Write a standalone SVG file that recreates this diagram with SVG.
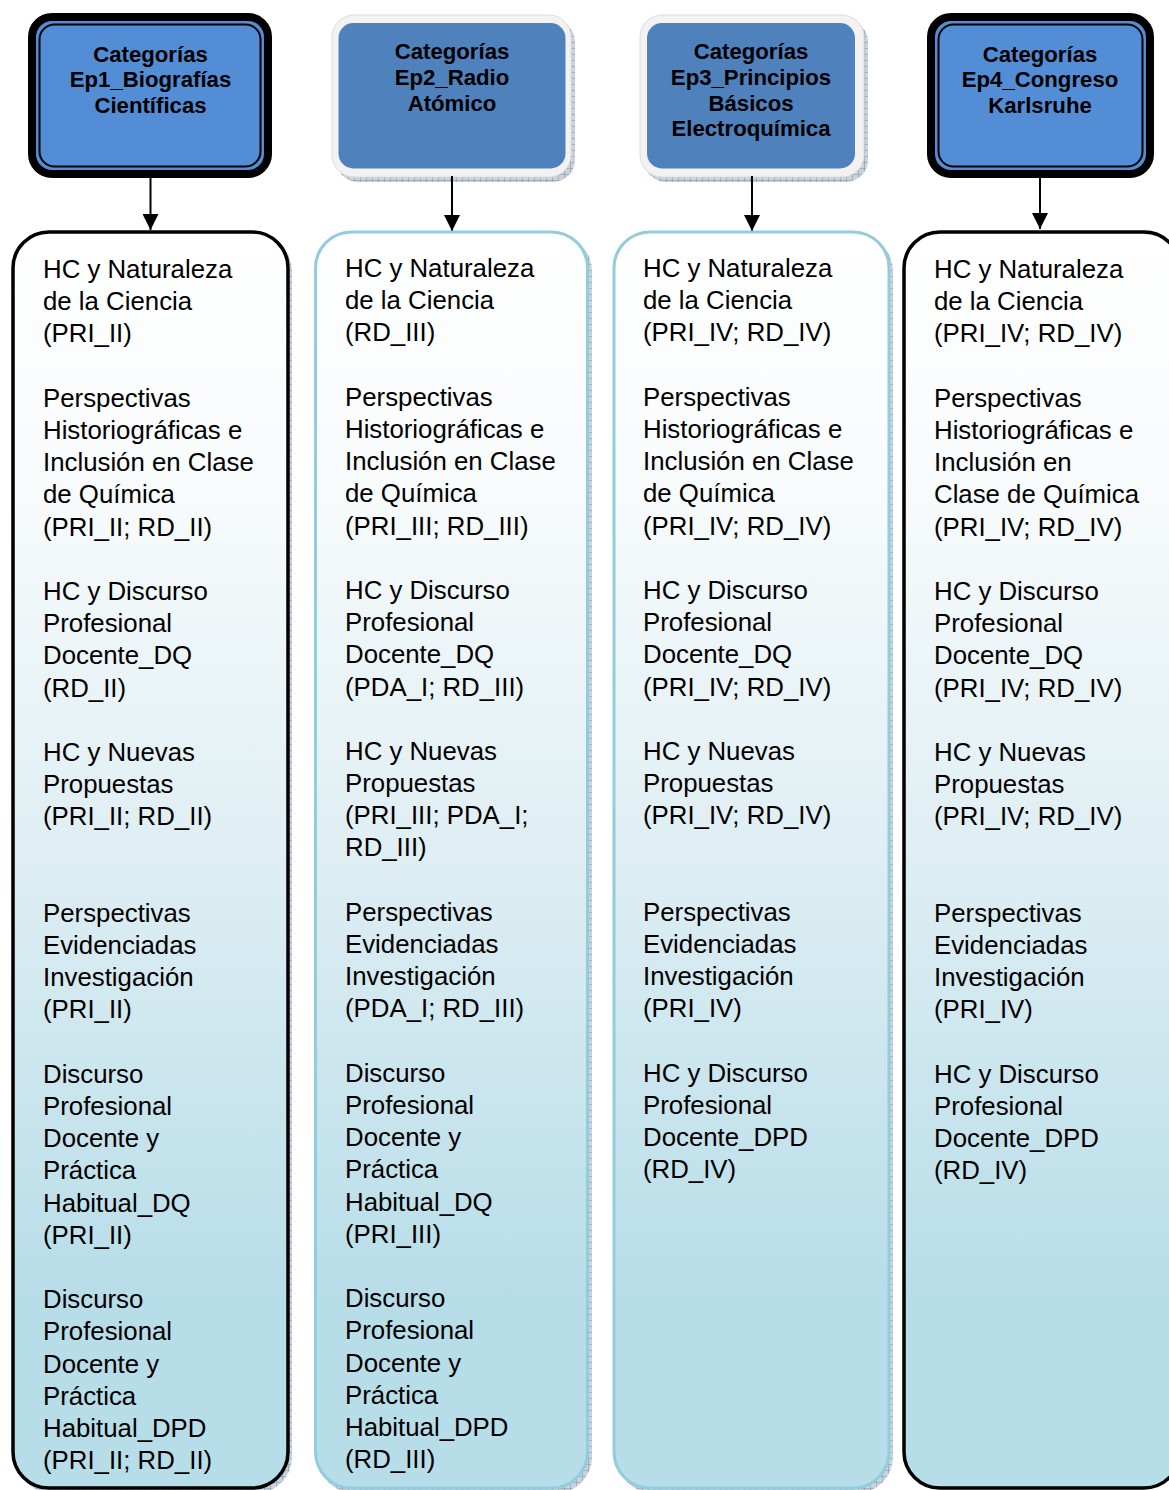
<svg xmlns="http://www.w3.org/2000/svg" width="1169" height="1490" viewBox="0 0 1169 1490">
  <defs>
    <linearGradient id="colFill" x1="0" y1="0" x2="0" y2="1">
      <stop offset="0" stop-color="#ffffff"/>
      <stop offset="0.2" stop-color="#f8fbfc"/>
      <stop offset="0.5" stop-color="#deeef3"/>
      <stop offset="0.85" stop-color="#b7dde8"/>
      <stop offset="1" stop-color="#b7dde8"/>
    </linearGradient>
    <pattern id="hatch" width="6" height="6" patternUnits="userSpaceOnUse">
      <rect width="6" height="6" fill="#c9d3dd"/>
      <path d="M0 0H6M0 0V6" stroke="#7d8fa3" stroke-width="1"/>
    </pattern>
    <marker id="arrow" viewBox="0 0 16 16" refX="16" refY="8" markerWidth="16" markerHeight="16" markerUnits="userSpaceOnUse" orient="auto">
      <path d="M0 0L16 8L0 16Z" fill="#000"/>
    </marker>
  </defs>
  <style>
    .hdr { font-family: "Liberation Sans", Arial, sans-serif; font-weight: bold; font-size: 22.2px; fill: #000; text-anchor: middle; }
    .body { font-family: "Liberation Sans", Arial, sans-serif; font-size: 25.8px; fill: #000; }
    .col-dark { fill: url(#colFill); stroke: #000; stroke-width: 3.5; }
    .col-light { fill: url(#colFill); stroke: #92cddc; stroke-width: 3; }
    .shadow { fill: url(#hatch); }
    .hdr-dark-outer { fill: #538dd5; stroke: #000; stroke-width: 8; }
    .hdr-dark-inner { fill: none; stroke: #000; stroke-width: 2; }
    .hdr-frame { fill: #f2f2f2; stroke: #dcdcdc; stroke-width: 1; }
    .hdr-light-inner { fill: #4f81bd; }
    .conn { stroke: #000; stroke-width: 2; fill: none; marker-end: url(#arrow); }
  </style>

  <rect width="1169" height="1490" fill="#ffffff"/>

  <!-- Header nodes -->
  <g id="ep1-header">
    <rect class="hdr-dark-outer" x="32" y="17" width="236" height="157" rx="20"/>
    <rect class="hdr-dark-inner" x="39.5" y="24.5" width="221" height="142" rx="15"/>
    <text class="hdr"><tspan x="150.5" y="61.7">Categorías</tspan><tspan x="150.5" y="87.4">Ep1_Biografías</tspan><tspan x="150.5" y="113.1">Científicas</tspan></text>
  </g>

  <g id="ep2-header">
    <rect class="shadow" x="336" y="20" width="239" height="162" rx="22"/>
    <rect class="hdr-frame" x="332" y="15" width="239" height="162" rx="22"/>
    <rect class="hdr-light-inner" x="338.5" y="23" width="227" height="145.5" rx="15"/>
    <text class="hdr"><tspan x="452" y="59.3">Categorías</tspan><tspan x="452" y="85">Ep2_Radio</tspan><tspan x="452" y="110.7">Atómico</tspan></text>
  </g>

  <g id="ep3-header">
    <rect class="shadow" x="644" y="20" width="224" height="162" rx="22"/>
    <rect class="hdr-frame" x="640" y="15" width="224" height="162" rx="22"/>
    <rect class="hdr-light-inner" x="647" y="23" width="208" height="145.5" rx="15"/>
    <text class="hdr"><tspan x="751" y="59.3">Categorías</tspan><tspan x="751" y="85">Ep3_Principios</tspan><tspan x="751" y="110.6">Básicos</tspan><tspan x="751" y="136.3">Electroquímica</tspan></text>
  </g>

  <g id="ep4-header">
    <rect class="hdr-dark-outer" x="931" y="17" width="219" height="157" rx="20"/>
    <rect class="hdr-dark-inner" x="938.5" y="24.5" width="204" height="142" rx="15"/>
    <text class="hdr"><tspan x="1040" y="61.7">Categorías</tspan><tspan x="1040" y="87.4">Ep4_Congreso</tspan><tspan x="1040" y="113.1">Karlsruhe</tspan></text>
  </g>

  <!-- Connectors -->
  <g id="connectors">
    <line class="conn" x1="150.5" y1="178" x2="150.5" y2="230"/>
    <line class="conn" x1="452" y1="176" x2="452" y2="231"/>
    <line class="conn" x1="752" y1="176" x2="752" y2="231"/>
    <line class="conn" x1="1040" y1="178" x2="1040" y2="229"/>
  </g>

  <!-- Category columns -->
  <g id="ep1-categories">
    <rect class="shadow" x="16" y="235" width="276" height="1258" rx="36"/>
    <rect class="col-dark" x="13" y="232" width="275" height="1256" rx="36"/>
    <text class="body" transform="translate(0,-1.5)">
      <tspan x="43" y="279.5">HC y Naturaleza</tspan>
      <tspan x="43" y="311.7">de la Ciencia</tspan>
      <tspan x="43" y="343.9">(PRI_II)</tspan>
      <tspan x="43" y="408.3">Perspectivas</tspan>
      <tspan x="43" y="440.5">Historiográficas e</tspan>
      <tspan x="43" y="472.6">Inclusión en Clase</tspan>
      <tspan x="43" y="504.8">de Química</tspan>
      <tspan x="43" y="537">(PRI_II; RD_II)</tspan>
      <tspan x="43" y="601.4">HC y Discurso</tspan>
      <tspan x="43" y="633.6">Profesional</tspan>
      <tspan x="43" y="665.8">Docente_DQ</tspan>
      <tspan x="43" y="698">(RD_II)</tspan>
      <tspan x="43" y="762.4">HC y Nuevas</tspan>
      <tspan x="43" y="794.5">Propuestas</tspan>
      <tspan x="43" y="826.7">(PRI_II; RD_II)</tspan>
      <tspan x="43" y="923.3">Perspectivas</tspan>
      <tspan x="43" y="955.5">Evidenciadas</tspan>
      <tspan x="43" y="987.7">Investigación</tspan>
      <tspan x="43" y="1019.9">(PRI_II)</tspan>
      <tspan x="43" y="1084.3">Discurso</tspan>
      <tspan x="43" y="1116.4">Profesional</tspan>
      <tspan x="43" y="1148.6">Docente y</tspan>
      <tspan x="43" y="1180.8">Práctica</tspan>
      <tspan x="43" y="1213">Habitual_DQ</tspan>
      <tspan x="43" y="1245.2">(PRI_II)</tspan>
      <tspan x="43" y="1309.6">Discurso</tspan>
      <tspan x="43" y="1341.8">Profesional</tspan>
      <tspan x="43" y="1374">Docente y</tspan>
      <tspan x="43" y="1406.2">Práctica</tspan>
      <tspan x="43" y="1438.3">Habitual_DPD</tspan>
      <tspan x="43" y="1470.5">(PRI_II; RD_II)</tspan>
    </text>
  </g>

  <g id="ep2-categories">
    <rect class="shadow" x="318" y="235" width="274" height="1258" rx="36"/>
    <rect class="col-light" x="315.5" y="232" width="272" height="1256" rx="36"/>
    <text class="body" transform="translate(0,-1.5)">
      <tspan x="345" y="278.5">HC y Naturaleza</tspan>
      <tspan x="345" y="310.7">de la Ciencia</tspan>
      <tspan x="345" y="342.9">(RD_III)</tspan>
      <tspan x="345" y="407.3">Perspectivas</tspan>
      <tspan x="345" y="439.5">Historiográficas e</tspan>
      <tspan x="345" y="471.6">Inclusión en Clase</tspan>
      <tspan x="345" y="503.8">de Química</tspan>
      <tspan x="345" y="536">(PRI_III; RD_III)</tspan>
      <tspan x="345" y="600.4">HC y Discurso</tspan>
      <tspan x="345" y="632.6">Profesional</tspan>
      <tspan x="345" y="664.8">Docente_DQ</tspan>
      <tspan x="345" y="697">(PDA_I; RD_III)</tspan>
      <tspan x="345" y="761.4">HC y Nuevas</tspan>
      <tspan x="345" y="793.5">Propuestas</tspan>
      <tspan x="345" y="825.7">(PRI_III; PDA_I;</tspan>
      <tspan x="345" y="857.9">RD_III)</tspan>
      <tspan x="345" y="922.3">Perspectivas</tspan>
      <tspan x="345" y="954.5">Evidenciadas</tspan>
      <tspan x="345" y="986.7">Investigación</tspan>
      <tspan x="345" y="1018.9">(PDA_I; RD_III)</tspan>
      <tspan x="345" y="1083.3">Discurso</tspan>
      <tspan x="345" y="1115.4">Profesional</tspan>
      <tspan x="345" y="1147.6">Docente y</tspan>
      <tspan x="345" y="1179.8">Práctica</tspan>
      <tspan x="345" y="1212">Habitual_DQ</tspan>
      <tspan x="345" y="1244.2">(PRI_III)</tspan>
      <tspan x="345" y="1308.6">Discurso</tspan>
      <tspan x="345" y="1340.8">Profesional</tspan>
      <tspan x="345" y="1373">Docente y</tspan>
      <tspan x="345" y="1405.2">Práctica</tspan>
      <tspan x="345" y="1437.3">Habitual_DPD</tspan>
      <tspan x="345" y="1469.5">(RD_III)</tspan>
    </text>
  </g>

  <g id="ep3-categories">
    <rect class="shadow" x="617" y="235" width="276" height="1258" rx="36"/>
    <rect class="col-light" x="614" y="232" width="275" height="1256" rx="36"/>
    <text class="body" transform="translate(0,-1.5)">
      <tspan x="643" y="278.5">HC y Naturaleza</tspan>
      <tspan x="643" y="310.7">de la Ciencia</tspan>
      <tspan x="643" y="342.9">(PRI_IV; RD_IV)</tspan>
      <tspan x="643" y="407.3">Perspectivas</tspan>
      <tspan x="643" y="439.5">Historiográficas e</tspan>
      <tspan x="643" y="471.6">Inclusión en Clase</tspan>
      <tspan x="643" y="503.8">de Química</tspan>
      <tspan x="643" y="536">(PRI_IV; RD_IV)</tspan>
      <tspan x="643" y="600.4">HC y Discurso</tspan>
      <tspan x="643" y="632.6">Profesional</tspan>
      <tspan x="643" y="664.8">Docente_DQ</tspan>
      <tspan x="643" y="697">(PRI_IV; RD_IV)</tspan>
      <tspan x="643" y="761.4">HC y Nuevas</tspan>
      <tspan x="643" y="793.5">Propuestas</tspan>
      <tspan x="643" y="825.7">(PRI_IV; RD_IV)</tspan>
      <tspan x="643" y="922.3">Perspectivas</tspan>
      <tspan x="643" y="954.5">Evidenciadas</tspan>
      <tspan x="643" y="986.7">Investigación</tspan>
      <tspan x="643" y="1018.9">(PRI_IV)</tspan>
      <tspan x="643" y="1083.3">HC y Discurso</tspan>
      <tspan x="643" y="1115.4">Profesional</tspan>
      <tspan x="643" y="1147.6">Docente_DPD</tspan>
      <tspan x="643" y="1179.8">(RD_IV)</tspan>
    </text>
  </g>

  <g id="ep4-categories">
    <rect class="col-dark" x="904" y="232" width="276" height="1256" rx="36"/>
    <text class="body" transform="translate(0,-1.5)">
      <tspan x="934" y="279.5">HC y Naturaleza</tspan>
      <tspan x="934" y="311.7">de la Ciencia</tspan>
      <tspan x="934" y="343.9">(PRI_IV; RD_IV)</tspan>
      <tspan x="934" y="408.3">Perspectivas</tspan>
      <tspan x="934" y="440.5">Historiográficas e</tspan>
      <tspan x="934" y="472.6">Inclusión en</tspan>
      <tspan x="934" y="504.8">Clase de Química</tspan>
      <tspan x="934" y="537">(PRI_IV; RD_IV)</tspan>
      <tspan x="934" y="601.4">HC y Discurso</tspan>
      <tspan x="934" y="633.6">Profesional</tspan>
      <tspan x="934" y="665.8">Docente_DQ</tspan>
      <tspan x="934" y="698">(PRI_IV; RD_IV)</tspan>
      <tspan x="934" y="762.4">HC y Nuevas</tspan>
      <tspan x="934" y="794.5">Propuestas</tspan>
      <tspan x="934" y="826.7">(PRI_IV; RD_IV)</tspan>
      <tspan x="934" y="923.3">Perspectivas</tspan>
      <tspan x="934" y="955.5">Evidenciadas</tspan>
      <tspan x="934" y="987.7">Investigación</tspan>
      <tspan x="934" y="1019.9">(PRI_IV)</tspan>
      <tspan x="934" y="1084.3">HC y Discurso</tspan>
      <tspan x="934" y="1116.4">Profesional</tspan>
      <tspan x="934" y="1148.6">Docente_DPD</tspan>
      <tspan x="934" y="1180.8">(RD_IV)</tspan>
    </text>
  </g>
</svg>
